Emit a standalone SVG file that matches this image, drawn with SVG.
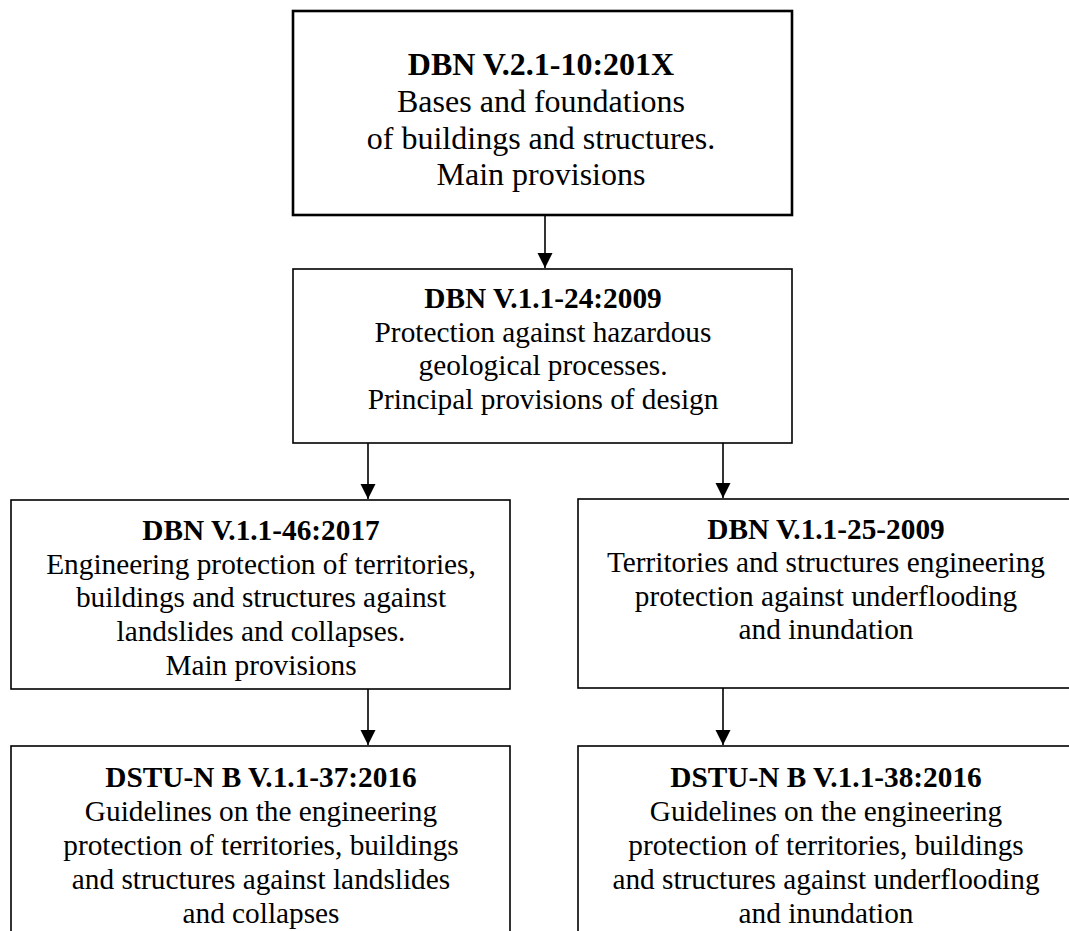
<svg xmlns="http://www.w3.org/2000/svg" width="1069" height="931" viewBox="0 0 1069 931">
<style>
  .box { fill: #ffffff; stroke: #000000; stroke-width: 1.6; }
  .thick { stroke-width: 2.6; }
  text { font-family: "Liberation Serif", "Times New Roman", serif; fill: #000000; text-anchor: middle; }
  .t1 { font-size: 32px; }
  .t2 { font-size: 29.3px; }
  .b { font-weight: bold; }
  .conn { stroke: #000000; stroke-width: 1.6; fill: none; marker-end: url(#arrow); }
</style>
<defs>
  <marker id="arrow" markerUnits="userSpaceOnUse" markerWidth="16" markerHeight="16" refX="15" refY="7.5" orient="auto">
    <path d="M0,0 L15,7.5 L0,15 z" fill="#000000"/>
  </marker>
</defs>
<rect x="0" y="0" width="1069" height="931" fill="#ffffff"/>

<g id="connectors">
  <line class="conn" x1="545" y1="215" x2="545" y2="268"/>
  <line class="conn" x1="368" y1="443" x2="368" y2="499"/>
  <line class="conn" x1="723" y1="443" x2="723" y2="498"/>
  <line class="conn" x1="368" y1="689" x2="368" y2="745"/>
  <line class="conn" x1="723" y1="688" x2="723" y2="745"/>
</g>

<g id="node-dbn-v21-10">
  <rect class="box thick" x="293" y="11" width="499" height="204"/>
  <text class="t1" x="541" y="75"><tspan class="b">DBN V.2.1-10:201X</tspan></text>
  <text class="t1" x="541" y="112">Bases and foundations</text>
  <text class="t1" x="541" y="148.5">of buildings and structures.</text>
  <text class="t1" x="541" y="185">Main provisions</text>
</g>

<g id="node-dbn-v11-24">
  <rect class="box" x="293" y="269" width="499" height="174"/>
  <text class="t2 b" x="543" y="308">DBN V.1.1-24:2009</text>
  <text class="t2" x="543" y="342">Protection against hazardous</text>
  <text class="t2" x="543" y="375">geological processes.</text>
  <text class="t2" x="543" y="409">Principal provisions of design</text>
</g>

<g id="node-dbn-v11-46">
  <rect class="box" x="11" y="500" width="499" height="189"/>
  <text class="t2 b" x="261" y="540">DBN V.1.1-46:2017</text>
  <text class="t2" x="261" y="574">Engineering protection of territories,</text>
  <text class="t2" x="261" y="607">buildings and structures against</text>
  <text class="t2" x="261" y="641">landslides and collapses.</text>
  <text class="t2" x="261" y="675">Main provisions</text>
</g>

<g id="node-dbn-v11-25">
  <rect class="box" x="578" y="499" width="494" height="189"/>
  <text class="t2 b" x="826" y="539">DBN V.1.1-25-2009</text>
  <text class="t2" x="826" y="572">Territories and structures engineering</text>
  <text class="t2" x="826" y="606">protection against underflooding</text>
  <text class="t2" x="826" y="639">and inundation</text>
</g>

<g id="node-dstu-37">
  <rect class="box" x="11" y="746" width="499" height="200"/>
  <text class="t2 b" x="261" y="787">DSTU-N B V.1.1-37:2016</text>
  <text class="t2" x="261" y="821">Guidelines on the engineering</text>
  <text class="t2" x="261" y="855">protection of territories, buildings</text>
  <text class="t2" x="261" y="889">and structures against landslides</text>
  <text class="t2" x="261" y="923">and collapses</text>
</g>

<g id="node-dstu-38">
  <rect class="box" x="578" y="746" width="494" height="200"/>
  <text class="t2 b" x="826" y="787">DSTU-N B V.1.1-38:2016</text>
  <text class="t2" x="826" y="821">Guidelines on the engineering</text>
  <text class="t2" x="826" y="855">protection of territories, buildings</text>
  <text class="t2" x="826" y="889">and structures against underflooding</text>
  <text class="t2" x="826" y="923">and inundation</text>
</g>
</svg>
